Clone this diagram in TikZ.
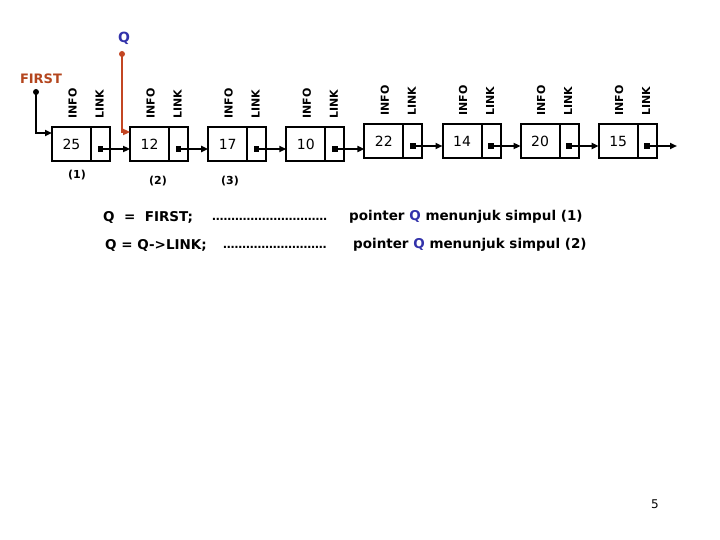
\documentclass[tikz,border=0pt]{standalone}
\usepackage{fontspec}
\setmainfont{DejaVu Sans}
\usepackage{xcolor}
\usetikzlibrary{arrows.meta,positioning,calc}
\definecolor{firstorange}{RGB}{180,70,30}
\definecolor{qblue}{RGB}{50,50,170}
\definecolor{qline}{RGB}{195,70,35}
\tikzset{
  infobox/.style={rectangle,draw,line width=2pt,outer sep=0pt,minimum width=39pt,minimum height=34pt,inner sep=0pt,font=\fontsize{14}{14}\selectfont},
  linkbox/.style={rectangle,draw,line width=2pt,outer sep=0pt,minimum width=19pt,minimum height=34pt,inner sep=0pt},
  fieldlbl/.style={rotate=90,anchor=west,inner sep=0pt,font=\bfseries\fontsize{11}{11}\selectfont},
  nodenum/.style={font=\bfseries\fontsize{11}{11}\selectfont},
  ptrdot/.style={circle,fill,inner sep=0pt,minimum size=6pt},
  linkdot/.style={rectangle,fill,inner sep=0pt,minimum size=5.5pt},
  nextarr/.style={-{Triangle[length=7pt,width=6pt]},line width=2pt},
  codetxt/.style={anchor=west,inner sep=0pt,font=\bfseries\fontsize{13.5}{13.5}\selectfont},
  leader/.style={anchor=west,inner sep=0pt,font=\bfseries\fontsize{11.5}{11.5}\selectfont}
}
\begin{document}
\begin{tikzpicture}[x=1pt,y=-1pt]
\useasboundingbox (0,0) rectangle (720,540);

% simpul-simpul
\foreach \v/\t [count=\i] in {25/127,12/127,17/127,10/127,22/124,14/124,20/124,15/124}{
  \pgfmathsetmacro{\xl}{52+78.1*(\i-1)}
  \node[infobox,anchor=north west] (i\i) at (\xl,\t) {\v};
  \node[linkbox,anchor=west] (l\i) at (i\i.east) {};
  \node[fieldlbl] at ($(i\i.north)+(1,-8)$) {INFO};
  \node[fieldlbl] at ($(l\i.north)+(-1,-8)$) {LINK};
  \node[linkdot] (d\i) at ($(l\i.south)+(0,-12)$) {};
}
\foreach \i [evaluate=\i as \j using int(\i+1)] in {1,...,7}
  \draw[nextarr] (d\i.center) -- (d\i.center -| i\j.west);
\coordinate (tail) at (677,148);
\draw[nextarr] (d8.center) -- (d8.center -| tail);

\node[nodenum] (n1) at (77,175) {(1)};
\node[nodenum] (n2) at (158,181) {(2)};
\node[nodenum] (n3) at (230,181) {(3)};

% pointer FIRST dan Q
\node[font=\bfseries\fontsize{13}{13}\selectfont,text=firstorange] (first) at (41,79) {FIRST};
\node[ptrdot] (fdot) at (36,92) {};
\draw[nextarr] (fdot.center) |- ($(i1.north west)+(0,6)$);

\node[font=\bfseries\fontsize{14}{14}\selectfont,text=qblue] (q) at (124,38) {Q};
\node[ptrdot,fill=qline] (qdot) at (122,54) {};
\draw[nextarr,draw=qline,line width=2.8pt] (qdot.center) |- ($(i2.north west)+(0,5)$);

% keterangan
\node[codetxt] (c1) at (103,217) {Q~~=~~FIRST;};
\node[leader] (c1dots) at (212,219) {…………………………};
\node[codetxt] (c1txt) at (349,217) {pointer \textcolor{qblue}{Q} menunjuk simpul (1)};

\node[codetxt] (c2) at (105,245) {Q = Q->LINK;};
\node[leader] (c2dots) at (223,247) {………………………};
\node[codetxt] (c2txt) at (353,245) {pointer \textcolor{qblue}{Q} menunjuk simpul (2)};

\node[font=\fontsize{12}{12}\selectfont] (pg) at (655,504) {5};
\end{tikzpicture}
\end{document}
